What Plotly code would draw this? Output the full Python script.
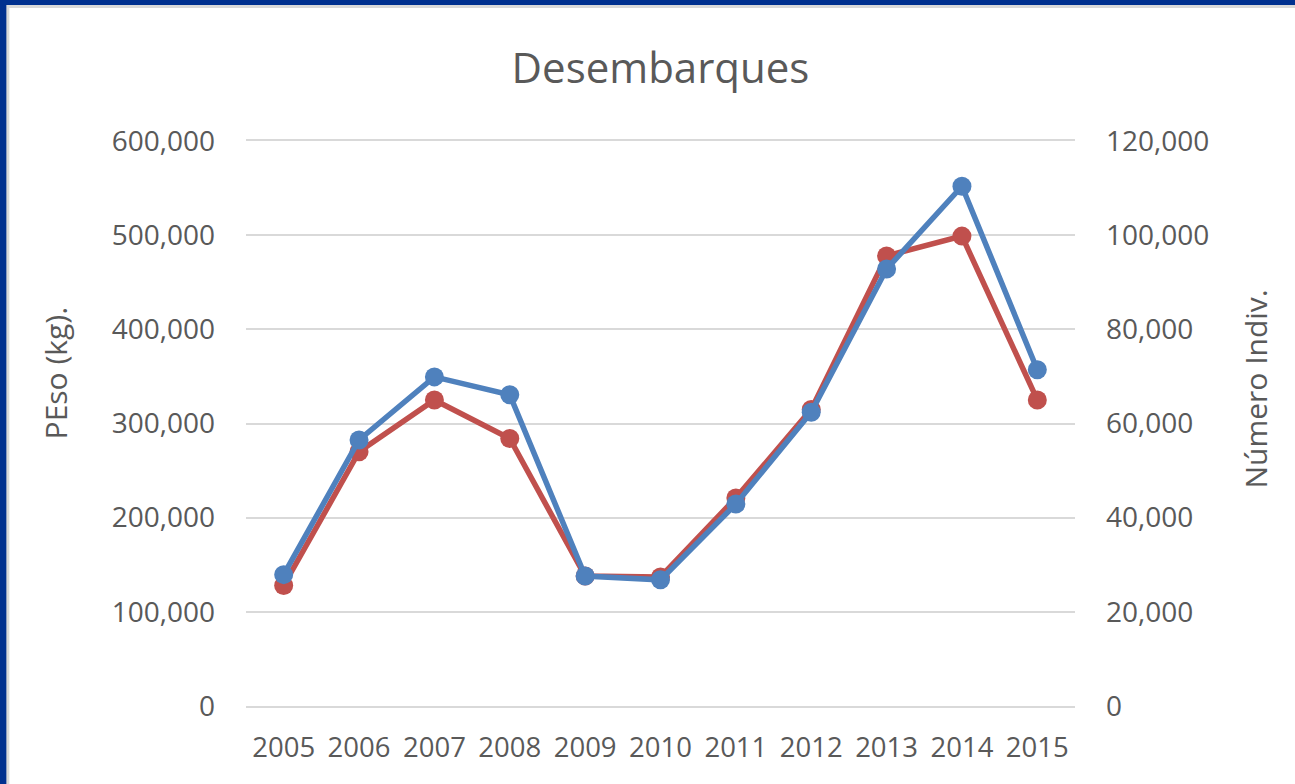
import plotly.graph_objects as go

years = ["2005", "2006", "2007", "2008", "2009", "2010", "2011", "2012", "2013", "2014", "2015"]
peso_kg = [128000, 270000, 325000, 284000, 138000, 137000, 221000, 315000, 478000, 499000, 325000]
numero_indiv = [27900, 56500, 69900, 66100, 27600, 26800, 42900, 62400, 92800, 110400, 71400]

left_ticks = [0, 100000, 200000, 300000, 400000, 500000, 600000]
right_ticks = [0, 20000, 40000, 60000, 80000, 100000, 120000]

FONT = "Open Sans"
GRAY = "#595959"
GRID = "#D9D9D9"
RED = "#C0504D"
BLUE = "#4F81BD"

fig = go.Figure()
fig.add_trace(go.Scatter(
    x=years, y=peso_kg, name="PEso (kg).", mode="lines+markers",
    line=dict(color=RED, width=5.5), marker=dict(color=RED, size=19),
    yaxis="y", cliponaxis=False))
fig.add_trace(go.Scatter(
    x=years, y=numero_indiv, name="Número Indiv.", mode="lines+markers",
    line=dict(color=BLUE, width=5.5), marker=dict(color=BLUE, size=19),
    yaxis="y2", cliponaxis=False))

W, H = 1295, 784
L, R, T, B = 246.4, 1074.6, 141, 706


def px(x):
    return (x - L) / (R - L)


def py(y):
    return (B - y) / (B - T)


fig.update_layout(
    width=W, height=H,
    margin=dict(l=L, r=W - R, t=T, b=H - B, autoexpand=False),
    paper_bgcolor="#00308F",
    plot_bgcolor="white",
    showlegend=False,
    font=dict(family=FONT, color=GRAY),
    title=dict(text="Desembarques", x=0.5, xref="paper", xanchor="center",
               y=1 - 68 / H, yref="container", yanchor="middle",
               font=dict(family=FONT, size=42, color=GRAY)),
    xaxis=dict(type="category", showgrid=False, zeroline=False,
               showline=True, mirror=True, linecolor=GRID, linewidth=2,
               ticks="", tickfont=dict(family=FONT, size=27.5, color=GRAY),
               ticklabelstandoff=16, range=[-0.5, len(years) - 0.5]),
    yaxis=dict(range=[0, 600000], tickvals=left_ticks, tickformat=",d",
               showgrid=True, gridcolor=GRID, gridwidth=2,
               zeroline=False, showline=False, ticks="",
               tickfont=dict(family=FONT, size=28, color=GRAY),
               ticklabelstandoff=30),
    yaxis2=dict(range=[0, 120000], tickvals=right_ticks, tickformat=",d",
                overlaying="y", side="right", showgrid=False, zeroline=False,
                showline=False, ticks="",
                tickfont=dict(family=FONT, size=28, color=GRAY),
                ticklabelstandoff=30),
    shapes=[dict(type="rect", xref="paper", yref="paper", layer="below",
                 x0=px(8.5), x1=px(1300), y0=py(800), y1=py(6.5),
                 fillcolor="white", line=dict(color=GRID, width=3))],
    annotations=[
        dict(text="PEso (kg).", textangle=-90, xref="paper", yref="paper",
             x=px(56), y=py(373), xanchor="center", yanchor="middle",
             showarrow=False, font=dict(family=FONT, size=30, color=GRAY)),
        dict(text="Número Indiv.", textangle=-90, xref="paper", yref="paper",
             x=px(1254), y=py(389), xanchor="center", yanchor="middle",
             showarrow=False, font=dict(family=FONT, size=30, color=GRAY)),
    ],
)

fig.write_html("out.html", config={"displayModeBar": False},
               post_script="document.body.style.margin='0';document.body.style.overflow='hidden';")
